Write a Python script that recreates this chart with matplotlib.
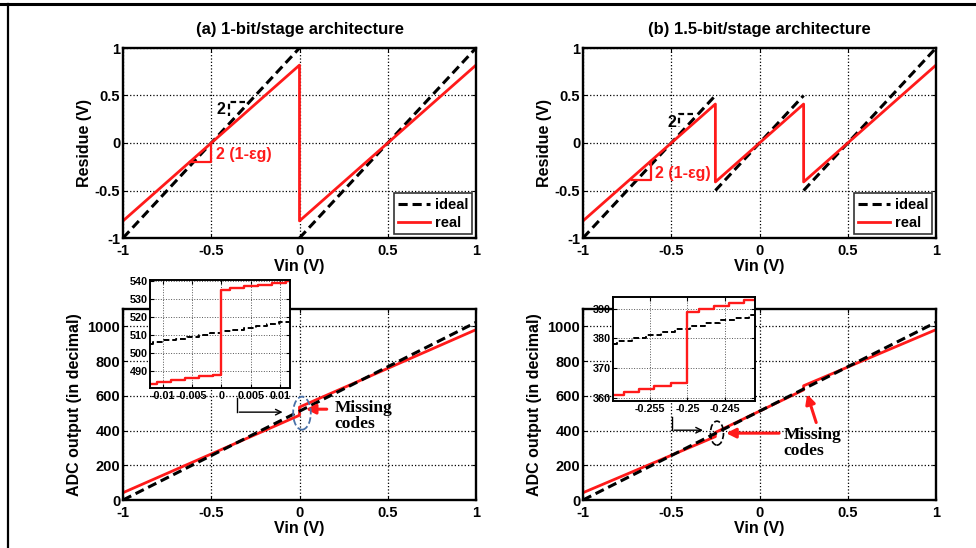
import numpy as np
import matplotlib
matplotlib.use("Agg")
import matplotlib.pyplot as plt
from matplotlib.lines import Line2D
from matplotlib.patches import Ellipse

plt.rcParams['font.family'] = ['Liberation Sans', 'DejaVu Sans']
plt.rcParams['font.weight'] = 'bold'
plt.rcParams['axes.labelweight'] = 'bold'

nan = np.nan
# ---------------- data ----------------
vin_ticks = [-1, -0.5, 0, 0.5, 1]
vin_ticklabels = ['-1', '-0.5', '0', '0.5', '1']
res_ticks = [-1, -0.5, 0, 0.5, 1]
res_ticklabels = ['-1', '-0.5', '0', '0.5', '1']
adc_ticks = [0, 200, 400, 600, 800, 1000]
adc_ticklabels = ['0', '200', '400', '600', '800', '1000']

# (a) residue
a_ideal_x = [-1, 0, nan, 0, 1]
a_ideal_y = [-1, 1, nan, -1, 1]
a_real_x = [-1, 0, 0, 1]
a_real_y = [-0.82, 0.82, -0.82, 0.82]
# (b) residue
b_ideal_x = [-1, -0.25, nan, -0.25, 0.25, nan, 0.25, 1]
b_ideal_y = [-1, 0.5, nan, -0.5, 0.5, nan, -0.5, 1]
b_real_x = [-1, -0.25, -0.25, 0.25, 0.25, 1]
b_real_y = [-0.82, 0.41, -0.41, 0.41, -0.41, 0.82]

# (a) ADC output
a_adc_ideal_x = [-1, 1]
a_adc_ideal_y = [0, 1023]
a_adc_real_x = [-1, 0, 0, 1]
a_adc_real_y = [42, 488, 535, 981]
# (b) ADC output
b_adc_ideal_x = [-1, 1]
b_adc_ideal_y = [0, 1023]
b_adc_real_x = [-1, -0.25, -0.25, 0.25, 0.25, 1]
b_adc_real_y = [42, 365, 389, 634, 658, 981]

# insets (staircases: step start positions and codes)
ia_ideal_x = [-0.0122, -0.0117, -0.0098, -0.0078, -0.0059, -0.0039, -0.0020,
              0.0, 0.0020, 0.0039, 0.0059, 0.0078, 0.0098, 0.0122]
ia_ideal_y = [505, 506, 507, 508, 509, 510, 511, 512, 513, 514, 515, 516, 517, 517]
ia_real_x = [-0.0122, -0.0110, -0.0086, -0.0062, -0.0038, -0.0014, 0.0,
             0.0014, 0.0038, 0.0062, 0.0086, 0.0110, 0.0122]
ia_real_y = [483, 484, 485, 486, 487, 488, 535, 536, 537, 538, 539, 540, 540]

ib_ideal_x = [-0.2599, -0.2594, -0.2574, -0.2555, -0.2535, -0.2516, -0.2496,
              -0.2477, -0.2457, -0.2437, -0.2418, -0.2410]
ib_ideal_y = [378, 379, 380, 381, 382, 383, 384, 385, 386, 387, 388, 388]
ib_real_x = [-0.2599, -0.2584, -0.2564, -0.2544, -0.2522, -0.2500,
             -0.2485, -0.2465, -0.2445, -0.2425, -0.2410]
ib_real_y = [361, 362, 363, 364, 365, 389, 390, 391, 392, 393, 393]

ia_xticks = [-0.01, -0.005, 0, 0.005, 0.01]
ia_xticklabels = ['-0.01', '-0.005', '0', '0.005', '0.01']
ia_yticks = [490, 500, 510, 520, 530, 540]
ib_xticks = [-0.255, -0.25, -0.245]
ib_xticklabels = ['-0.255', '-0.25', '-0.245']
ib_yticks = [360, 370, 380, 390]

# ---------------- figure ----------------
W, H = 976, 548
fig = plt.figure(figsize=(W / 100, H / 100), dpi=100)

def px_axes(x0, y0, x1, y1):
    return fig.add_axes([x0 / W, 1 - y1 / H, (x1 - x0) / W, (y1 - y0) / H])

def style(ax, fs=10.5, lw=1.7, xpad=4, ypad=2):
    ax.grid(True, color='black', linestyle=':', linewidth=0.9)
    for s in ax.spines.values():
        s.set_linewidth(lw)
    ax.tick_params(direction='in', length=3, width=0.8, labelsize=fs,
                   top=True, right=True)
    ax.tick_params(axis='x', pad=xpad)
    ax.tick_params(axis='y', pad=ypad)
    for t in ax.get_xticklabels() + ax.get_yticklabels():
        t.set_fontweight('bold')

RED = '#ff1a1a'

ax_a = px_axes(123, 48, 476, 238)
ax_b = px_axes(583, 48, 936, 238)
ax_c = px_axes(123, 309, 476, 500)
ax_d = px_axes(583, 309, 936, 500)

for ax, ix, iy, rx, ry, title in [
        (ax_a, a_ideal_x, a_ideal_y, a_real_x, a_real_y, '(a) 1-bit/stage architecture'),
        (ax_b, b_ideal_x, b_ideal_y, b_real_x, b_real_y, '(b) 1.5-bit/stage architecture')]:
    ax.plot(ix, iy, color='black', linestyle='--', linewidth=2.2, dashes=(3, 1.6), label='ideal')
    ax.plot(rx, ry, color=RED, linewidth=2.0, label='real')
    ax.set_xlim(-1, 1)
    ax.set_ylim(-1, 1)
    ax.set_xticks(vin_ticks)
    ax.set_xticklabels(vin_ticklabels)
    ax.set_yticks(res_ticks)
    ax.set_yticklabels(res_ticklabels)
    ax.set_xlabel('Vin (V)', fontsize=11.5, fontweight='bold', labelpad=1)
    ax.set_ylabel('Residue (V)', fontsize=11.5, fontweight='bold', labelpad=2)
    ax.set_title(title, fontsize=12, fontweight='bold', pad=10)
    style(ax)
    leg = ax.legend(loc='lower right', fancybox=False, edgecolor='black',
                    prop={'weight': 'bold', 'size': 10.5}, handlelength=2.2,
                    borderpad=0.3, labelspacing=0.3, handletextpad=0.3,
                    borderaxespad=0.25)
    leg.get_frame().set_linewidth(1.2)

for ax, ix, iy, rx, ry in [
        (ax_c, a_adc_ideal_x, a_adc_ideal_y, a_adc_real_x, a_adc_real_y),
        (ax_d, b_adc_ideal_x, b_adc_ideal_y, b_adc_real_x, b_adc_real_y)]:
    ax.plot(rx, ry, color=RED, linewidth=2.0)
    ax.plot(ix, iy, color='black', linestyle='--', linewidth=2.2, dashes=(3, 1.6))
    ax.set_xlim(-1, 1)
    ax.set_ylim(0, 1100)
    ax.set_xticks(vin_ticks)
    ax.set_xticklabels(vin_ticklabels)
    ax.set_yticks(adc_ticks)
    ax.set_yticklabels(adc_ticklabels)
    ax.set_xlabel('Vin (V)', fontsize=11.5, fontweight='bold', labelpad=1)
    ax.set_ylabel('ADC output (in decimal)', fontsize=11.5, fontweight='bold', labelpad=4)
    style(ax)

# slope annotations (a)
ax_a.plot([-0.31, -0.40, -0.40], [0.43, 0.43, 0.28], color='black', linestyle='--', linewidth=1.6, dashes=(2.5, 1.5))
ax_a.text(-0.42, 0.35, '2', color='black', fontsize=11.5, fontweight='bold', ha='right', va='center')
ax_a.plot([-0.62, -0.50, -0.50], [-0.20, -0.20, 0.0], color=RED, linewidth=1.6)
ax_a.text(-0.475, -0.12, '2 (1-εg)', color=RED, fontsize=11.5, fontweight='bold', ha='left', va='center')
# slope annotations (b)
ax_b.plot([-0.377, -0.454, -0.454], [0.305, 0.305, 0.168], color='black', linestyle='--', linewidth=1.6, dashes=(2.5, 1.5))
ax_b.text(-0.47, 0.22, '2', color='black', fontsize=11.5, fontweight='bold', ha='right', va='center')
ax_b.plot([-0.72, -0.615, -0.615], [-0.39, -0.39, -0.19], color=RED, linewidth=1.6)
ax_b.text(-0.59, -0.32, '2 (1-εg)', color=RED, fontsize=11.5, fontweight='bold', ha='left', va='center')

serif = ['Liberation Serif', 'DejaVu Serif']
# missing codes (a)
ax_c.add_patch(Ellipse((0.014, 500), 0.10, 190, fill=False, edgecolor='#4a72a8',
                       linestyle='--', linewidth=1.3, zorder=5))
ax_c.annotate('', xy=(0.02, 523), xytext=(0.17, 523),
              arrowprops=dict(arrowstyle='-|>', color=RED, lw=2.2, mutation_scale=14))
ax_c.text(0.20, 486, 'Missing\ncodes', family=serif, fontsize=12.5, fontweight='bold',
          ha='left', va='center', linespacing=1.0)
ax_c.plot([-0.354, -0.354], [586, 506], color='black', linewidth=1.0)
ax_c.annotate('', xy=(-0.08, 506), xytext=(-0.357, 506),
              arrowprops=dict(arrowstyle='->', color='black', lw=1.0))
# missing codes (b)
ax_d.add_patch(Ellipse((-0.241, 385), 0.074, 138, fill=False, edgecolor='black',
                       linestyle='--', linewidth=1.2, zorder=5))
ax_d.annotate('', xy=(-0.205, 385), xytext=(0.127, 385),
              arrowprops=dict(arrowstyle='-|>', color=RED, lw=2.2, mutation_scale=14))
ax_d.annotate('', xy=(0.265, 625), xytext=(0.326, 431),
              arrowprops=dict(arrowstyle='-|>', color=RED, lw=2.2, mutation_scale=14))
ax_d.text(0.135, 330, 'Missing\ncodes', family=serif, fontsize=12.5, fontweight='bold',
          ha='left', va='center', linespacing=1.0)
ax_d.plot([-0.496, -0.496], [477, 402], color='black', linewidth=1.0)
ax_d.annotate('', xy=(-0.305, 402), xytext=(-0.499, 402),
              arrowprops=dict(arrowstyle='->', color='black', lw=1.0))

# insets
in_a = px_axes(150, 280, 290, 388)
in_a.step(ia_ideal_x, ia_ideal_y, where='post', color='black', linestyle='--', linewidth=1.4, dashes=(3, 1.5))
in_a.step(ia_real_x, ia_real_y, where='post', color=RED, linewidth=1.7)
in_a.set_xlim(-0.0122, 0.0117)
in_a.set_ylim(480.5, 540.6)
in_a.set_xticks(ia_xticks)
in_a.set_xticklabels(ia_xticklabels)
in_a.set_yticks(ia_yticks)
style(in_a, fs=7.8, lw=1.4, xpad=2, ypad=1.5)
in_a.grid(True, color='#555555', linestyle=':', linewidth=0.7)

in_b = px_axes(613, 297, 755, 401)
in_b.step(ib_ideal_x, ib_ideal_y, where='post', color='black', linestyle='--', linewidth=1.4, dashes=(3, 1.5))
in_b.step(ib_real_x, ib_real_y, where='post', color=RED, linewidth=1.7)
in_b.set_xlim(-0.2599, -0.2410)
in_b.set_ylim(358.9, 393.9)
in_b.set_xticks(ib_xticks)
in_b.set_xticklabels(ib_xticklabels)
in_b.set_yticks(ib_yticks)
style(in_b, fs=7.8, lw=1.4, xpad=2, ypad=1.5)
in_b.grid(True, color='#555555', linestyle=':', linewidth=0.7)

# figure border (top and left)
fig.add_artist(Line2D([0, 1], [1 - 4 / H, 1 - 4 / H], color='black', linewidth=2.2, transform=fig.transFigure))
fig.add_artist(Line2D([8 / W, 8 / W], [0, 1 - 4 / H], color='black', linewidth=1.6, transform=fig.transFigure))

fig.savefig('out.png', dpi=100)
